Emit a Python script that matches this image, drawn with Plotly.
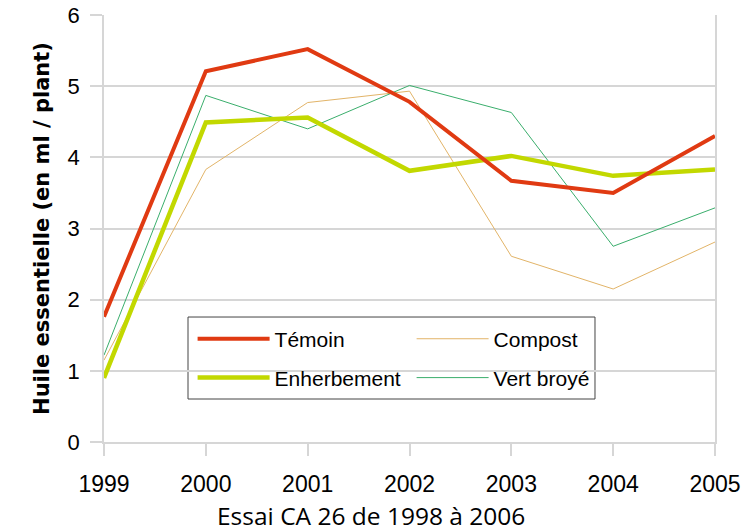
import plotly.graph_objects as go

# --- Data ---
years = [1999, 2000, 2001, 2002, 2003, 2004, 2005]
temoin = [1.76, 5.21, 5.52, 4.78, 3.67, 3.50, 4.30]
compost = [1.15, 3.83, 4.77, 4.93, 2.61, 2.15, 2.81]
enherbement = [0.90, 4.49, 4.56, 3.81, 4.02, 3.74, 3.83]
vert_broye = [1.22, 4.87, 4.40, 5.01, 4.63, 2.75, 3.29]

grid_col = "#d6d6d6"
arial = "Liberation Sans, Arial, sans-serif"

fig = go.Figure()

# thin lines first so the thick ones sit on top
fig.add_trace(go.Scatter(x=years, y=compost, mode="lines", name="Compost",
                         line=dict(color="#e2b468", width=1),
                         legend="legend", legendrank=2))
fig.add_trace(go.Scatter(x=years, y=vert_broye, mode="lines", name="Vert broyé",
                         line=dict(color="#3aae6c", width=1),
                         legend="legend2", legendrank=2))
fig.add_trace(go.Scatter(x=years, y=enherbement, mode="lines", name="Enherbement",
                         line=dict(color="#c2d800", width=4.5),
                         legend="legend2", legendrank=1))
fig.add_trace(go.Scatter(x=years, y=temoin, mode="lines", name="Témoin",
                         line=dict(color="#e03a12", width=4),
                         legend="legend", legendrank=1))

# two one-row legends stacked inside a drawn box (row spacing like the original)
legend_common = dict(
    orientation="h", xanchor="left", yanchor="middle",
    entrywidth=132, entrywidthmode="pixels", itemwidth=72,
    bgcolor="rgba(0,0,0,0)", borderwidth=0,
    font=dict(family=arial, size=21, color="black"),
)

fig.update_layout(
    width=755, height=532,
    margin=dict(l=104, r=40, t=15, b=90),
    plot_bgcolor="white", paper_bgcolor="white",
    xaxis=dict(
        range=[1999, 2005], tickmode="array", tickvals=years,
        showgrid=False, zeroline=False, automargin=False,
        showline=True, linecolor=grid_col, linewidth=1.5,
        ticks="outside", ticklen=12, tickcolor=grid_col, tickwidth=1.5,
        tickfont=dict(family=arial, size=23, color="black"), ticklabelstandoff=9,
        ticklabeloverflow="allow",
    ),
    yaxis=dict(
        range=[0, 6], dtick=1,
        showgrid=True, gridcolor=grid_col, gridwidth=1.5, zeroline=False,
        automargin=False, ticklabeloverflow="allow",
        showline=True, mirror=True, linecolor=grid_col, linewidth=1.5,
        ticks="outside", ticklen=12, tickcolor=grid_col, tickwidth=1.5,
        tickfont=dict(family=arial, size=22, color="black"), ticklabelstandoff=6,
        title=dict(text="<b>Huile essentielle (en ml / plant)</b>",
                   font=dict(family="DejaVu Sans, sans-serif", size=21, color="black"),
                   standoff=12),
    ),
    legend=dict(x=0.145, y=0.241, **legend_common),
    legend2=dict(x=0.145, y=0.150, **legend_common),
    shapes=[dict(type="rect", xref="paper", yref="paper",
                 x0=0.1375, x1=0.8036, y0=0.1007, y1=0.2927,
                 line=dict(color="#444444", width=1), fillcolor="white", layer="below")],
    annotations=[dict(text="Essai CA 26 de 1998 à 2006", xref="paper", yref="paper",
                      x=0.437, y=-0.171, xanchor="center", yanchor="middle",
                      showarrow=False,
                      font=dict(family="Open Sans, sans-serif", size=24.5, color="black"))],
)

# drop the page's default body margin so the figure sits at the window's corner
fig.write_html("out.html", config={"displayModeBar": False},
               post_script="document.body.style.margin = '0';")
